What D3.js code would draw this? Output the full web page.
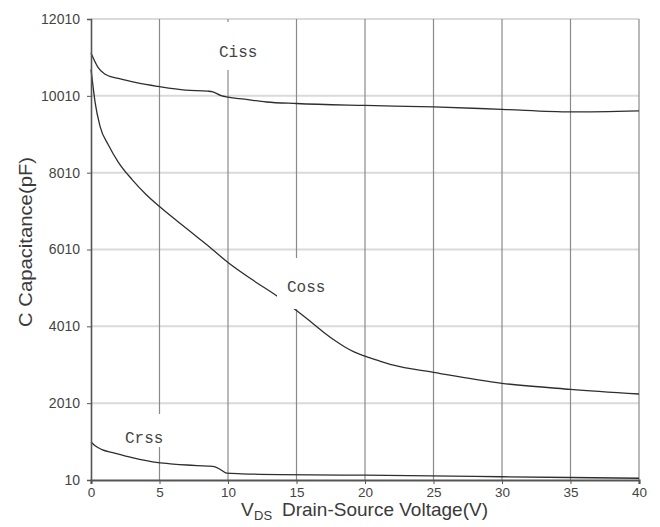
<!DOCTYPE html>
<html>
<head>
<meta charset="utf-8">
<script src="https://cdn.jsdelivr.net/npm/d3@7"></script>
<style>
  html, body { margin: 0; padding: 0; background: #fff; }
  svg { display: block; }
</style>
</head>
<body>
<svg id="chart" width="660" height="527"></svg>
<script>
// ---- data ----
const xTicks = [0, 5, 10, 15, 20, 25, 30, 35, 40];
const yTicks = [10, 2010, 4010, 6010, 8010, 10010, 12010];

const cissV = [0, 0.5, 1, 2, 3.4, 4.9, 6.9, 8.5, 8.9, 9.5, 10, 11.2, 12.8, 15, 20, 25, 30, 35, 40];
const cissC = [11125, 10760, 10580, 10462, 10345, 10254, 10158, 10132, 10114, 10015, 9975, 9924, 9850, 9810, 9760, 9722, 9658, 9592, 9620];

const cossV = [0, 0.15, 0.3, 0.65, 1.3, 2, 3, 4, 5, 6.4, 7.9, 8.8, 10, 11.7, 13.7, 15, 16, 17, 17.8, 18.5, 19.2, 20, 21, 22, 25, 30, 35, 40];
const cossC = [10700, 10250, 9840, 9230, 8710, 8280, 7830, 7450, 7130, 6720, 6290, 6030, 5670, 5240, 4770, 4420, 4140, 3850, 3640, 3480, 3345, 3235, 3115, 3005, 2813, 2527, 2370, 2248];

const crssV = [0, 0.3, 0.8, 1.6, 3, 4.9, 6, 7, 8.5, 9, 9.5, 9.9, 11, 13.8, 20, 30, 40];
const crssC = [1000, 900, 800, 721, 590, 461, 425, 400, 372, 360, 270, 190, 172, 150, 135, 95, 55];

const seriesNames = ["Ciss", "Coss", "Crss"];
const yTitle = "C Capacitance(pF)";
const xTitleMain = "V";
const xTitleSub = "DS";
const xTitleRest = "Drain-Source Voltage(V)";

// ---- layout ----
const svg = d3.select("#chart");
const x = d3.scaleLinear().domain([0, 40]).range([91, 639]);
const y = d3.scaleLinear().domain([10, 12010]).range([480, 19]);

// horizontal grid (light)
svg.append("g").selectAll("line").data(yTicks.filter(d => d !== 10)).join("line")
  .attr("x1", x(0)).attr("x2", x(40))
  .attr("y1", d => y(d)).attr("y2", d => y(d))
  .attr("stroke", "#dadada").attr("stroke-width", 2);

// vertical grid (darker)
svg.append("g").selectAll("line").data(xTicks.filter(d => d !== 0)).join("line")
  .attr("x1", d => x(d)).attr("x2", d => x(d))
  .attr("y1", y(12010)).attr("y2", y(10))
  .attr("stroke", "#8a8a8a").attr("stroke-width", 1.2);

// curves
const line = d3.line().x(d => x(d[0])).y(d => y(d[1])).curve(d3.curveMonotoneX);
const series = [
  d3.zip(cissV, cissC),
  d3.zip(cossV, cossC),
  d3.zip(crssV, crssC)
];
svg.append("g").selectAll("path").data(series).join("path")
  .attr("d", line)
  .attr("fill", "none")
  .attr("stroke", "#2e2e2e")
  .attr("stroke-width", 1.3);

// label knock-out boxes (gaps in grid / curve around the labels)
const boxes = [
  {x0: 214, y0: 22, x1: 268, y1: 70},
  {x0: 277, y0: 258, x1: 331, y1: 309},
  {x0: 119, y0: 414, x1: 166, y1: 447}
];
svg.append("g").selectAll("rect").data(boxes).join("rect")
  .attr("x", d => d.x0).attr("y", d => d.y0)
  .attr("width", d => d.x1 - d.x0).attr("height", d => d.y1 - d.y0)
  .attr("fill", "#fff");

// series labels
const labelPos = [
  {x: 219, y: 57},
  {x: 287, y: 292},
  {x: 125, y: 443}
];
svg.append("g").selectAll("text").data(seriesNames).join("text")
  .attr("x", (d, i) => labelPos[i].x).attr("y", (d, i) => labelPos[i].y)
  .attr("font-family", "Liberation Mono, DejaVu Sans Mono, monospace")
  .attr("font-size", 16)
  .attr("fill", "#444")
  .text(d => d);

// axes
const yAxis = d3.axisLeft(y).tickValues(yTicks).tickSize(4).tickPadding(7).tickFormat(d3.format("d"));
const gy = svg.append("g").attr("transform", `translate(${x(0)},0)`).call(yAxis);
gy.select(".domain").attr("stroke", "#555").attr("stroke-width", 1.6);
gy.selectAll(".tick line").attr("stroke", "#555");
gy.selectAll("text").attr("font-family", "Liberation Sans, Arial, sans-serif")
  .attr("font-size", 14).attr("fill", "#444");

const xAxis = d3.axisBottom(x).tickValues(xTicks).tickSize(4).tickPadding(3).tickFormat(d3.format("d"));
const gx = svg.append("g").attr("transform", `translate(0,${y(10)})`).call(xAxis);
gx.select(".domain").attr("stroke", "#555").attr("stroke-width", 2.2);
gx.selectAll(".tick line").attr("stroke", "#555");
gx.selectAll("text").attr("font-family", "Liberation Sans, Arial, sans-serif")
  .attr("font-size", 13.5).attr("fill", "#444");

// axis titles
svg.append("text")
  .attr("transform", "translate(32,242) rotate(-90)")
  .attr("text-anchor", "middle")
  .attr("font-family", "Liberation Sans, Arial, sans-serif")
  .attr("font-size", 19)
  .attr("fill", "#3a3a3a")
  .attr("textLength", 170).attr("lengthAdjust", "spacingAndGlyphs")
  .text(yTitle);

svg.append("text")
  .attr("x", 241).attr("y", 516)
  .attr("font-family", "Liberation Sans, Arial, sans-serif")
  .attr("font-size", 19).attr("fill", "#3a3a3a")
  .text(xTitleMain);
svg.append("text")
  .attr("x", 254).attr("y", 520)
  .attr("font-family", "Liberation Sans, Arial, sans-serif")
  .attr("font-size", 13).attr("fill", "#3a3a3a")
  .text(xTitleSub);
svg.append("text")
  .attr("x", 282).attr("y", 516)
  .attr("font-family", "Liberation Sans, Arial, sans-serif")
  .attr("font-size", 19).attr("fill", "#3a3a3a")
  .attr("textLength", 206).attr("lengthAdjust", "spacingAndGlyphs")
  .text(xTitleRest);
</script>
</body>
</html>
